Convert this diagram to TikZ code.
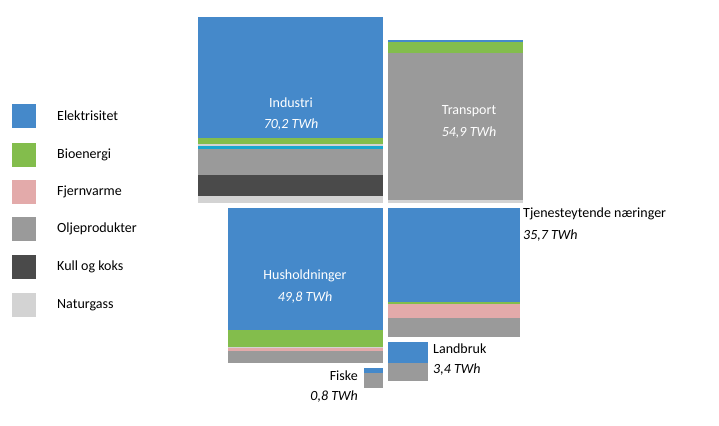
\documentclass[tikz,border=0pt]{standalone}
\usepackage{fontspec}
\setmainfont{Carlito}
\begin{document}
\begin{tikzpicture}[x=1pt,y=-1pt,
  lbl/.style={font=\fontsize{14}{16}\selectfont, inner sep=0pt},
  wl/.style={lbl, text=white}]
\definecolor{el}{HTML}{4589CA}
\definecolor{bio}{HTML}{83BD4C}
\definecolor{fj}{HTML}{E3AAAA}
\definecolor{ol}{HTML}{9A9A9A}
\definecolor{ku}{HTML}{4A4A4A}
\definecolor{ng}{HTML}{D3D3D3}
\definecolor{cy}{HTML}{1AA7CF}
\useasboundingbox (0,0) rectangle (719,425);
% Industri
\fill[el] (198,17) rectangle (383,138);
\fill[bio] (198,138) rectangle (383,144);
\fill[ng] (198,144) rectangle (383,146);
\fill[cy] (198,146) rectangle (383,149);
\fill[ol] (198,149) rectangle (383,175);
\fill[ku] (198,175) rectangle (383,196);
\fill[ng] (198,196) rectangle (383,203);
\node[wl] (ind) at (291,103) {Industri};
\node[wl] (indv) at (291,125) {\itshape 70,2 TWh};
% Transport
\fill[el] (388,40) rectangle (523,42);
\fill[bio] (388,42) rectangle (523,53);
\fill[ol] (388,53) rectangle (523,200);
\fill[ng] (388,200) rectangle (523,203);
\node[wl] (tr) at (469,111) {Transport};
\node[wl] (trv) at (469,133) {\itshape 54,9 TWh};
% Husholdninger
\fill[el] (228,208) rectangle (383,330);
\fill[bio] (228,330) rectangle (383,347);
\fill[ng] (228,347) rectangle (383,348);
\fill[fj] (228,348) rectangle (383,351);
\fill[ol] (228,351) rectangle (383,363);
\node[wl] (hus) at (305,276) {Husholdninger};
\node[wl] (husv) at (305,298) {\itshape 49,8 TWh};
% Tjenesteytende
\fill[el] (388,208) rectangle (520,302);
\fill[bio] (388,302) rectangle (520,304);
\fill[fj] (388,304) rectangle (520,318);
\fill[ol] (388,318) rectangle (520,337);
\node[lbl,anchor=west] (tj) at (523,214) {Tjenesteytende næringer};
\node[lbl,anchor=west] (tjv) at (523,236) {\itshape 35,7 TWh};
% Landbruk
\fill[el] (388,342) rectangle (428,363);
\fill[ol] (388,363) rectangle (428,381);
\node[lbl,anchor=west] (la) at (433,349) {Landbruk};
\node[lbl,anchor=west] (lav) at (433,370) {\itshape 3,4 TWh};
% Fiske
\fill[el] (364,368) rectangle (383,373);
\fill[ol] (364,373) rectangle (383,388);
\node[lbl,anchor=east] (fi) at (358,376) {Fiske};
\node[lbl,anchor=east] (fiv) at (358,397) {\itshape 0,8 TWh};
% Legend
\foreach \c/\t/\y [count=\i] in {el/Elektrisitet/116, bio/Bioenergi/155, fj/Fjernvarme/192, ol/Oljeprodukter/229, ku/Kull og koks/267, ng/Naturgass/305}{
  \fill[\c] (12,\y-12) rectangle (36,\y+12);
  \node[lbl,anchor=west] (leg\i) at (57,\y) {\t};
}
\end{tikzpicture}
\end{document}
